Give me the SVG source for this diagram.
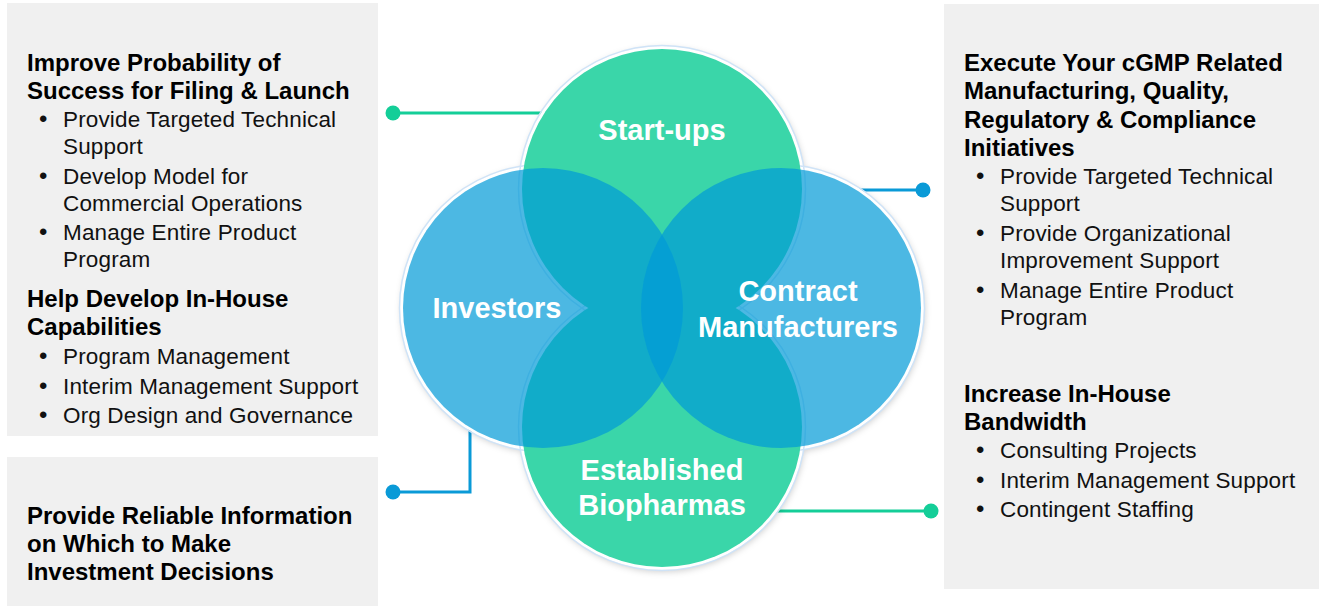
<svg xmlns="http://www.w3.org/2000/svg" width="1322" height="606" viewBox="0 0 1322 606">
  <style>
    .panel { fill: #F0F0F0; }
    .head { font-family: "Liberation Sans", Arial, sans-serif; font-weight: bold; font-size: 24px; fill: #000; }
    .item { font-family: "Liberation Sans", Arial, sans-serif; font-size: 22.5px; letter-spacing: 0.15px; fill: #111; }
    .bul { font-family: "Liberation Sans", Arial, sans-serif; font-size: 24px; fill: #111; }
    .lbl { font-family: "Liberation Sans", Arial, sans-serif; font-weight: bold; font-size: 29px; fill: #fff; text-anchor: middle; }
    .green { fill: #3AD6A9; }
    .blue { fill: #009AD7; fill-opacity: 0.7; }
    .back { fill: #fff; stroke: #fff; stroke-width: 6; }
    .halo { fill: none; stroke: #CFE3F7; stroke-width: 1.5; }
    .cg { stroke: #14CE98; stroke-width: 3; fill: none; }
    .cb { stroke: #0A9AD7; stroke-width: 3; fill: none; }
    .dg { fill: #14CE98; }
    .db { fill: #0A9AD7; }
  </style>
  <defs>
    <filter id="shadow" x="-20%" y="-20%" width="140%" height="140%">
      <feDropShadow dx="1" dy="2" stdDeviation="3" flood-color="#000" flood-opacity="0.18"/>
    </filter>
  </defs>

  <g id="panel-left-top">
    <rect class="panel" x="7" y="3" width="371" height="433"/>
    <text class="head" x="27" y="71">Improve Probability of</text>
    <text class="head" x="27" y="99">Success for Filing &amp; Launch</text>
    <text class="bul" x="39" y="127">•</text><text class="item" x="63" y="127">Provide Targeted Technical</text>
    <text class="item" x="63" y="154">Support</text>
    <text class="bul" x="39" y="184">•</text><text class="item" x="63" y="184">Develop Model for</text>
    <text class="item" x="63" y="211">Commercial Operations</text>
    <text class="bul" x="39" y="240">•</text><text class="item" x="63" y="240">Manage Entire Product</text>
    <text class="item" x="63" y="267">Program</text>
    <text class="head" x="27" y="307">Help Develop In-House</text>
    <text class="head" x="27" y="335">Capabilities</text>
    <text class="bul" x="39" y="364">•</text><text class="item" x="63" y="364">Program Management</text>
    <text class="bul" x="39" y="394">•</text><text class="item" x="63" y="394">Interim Management Support</text>
    <text class="bul" x="39" y="423">•</text><text class="item" x="63" y="423">Org Design and Governance</text>
  </g>

  <g id="panel-left-bottom">
    <rect class="panel" x="7" y="457" width="371" height="149"/>
    <text class="head" x="27" y="524">Provide Reliable Information</text>
    <text class="head" x="27" y="552">on Which to Make</text>
    <text class="head" x="27" y="580">Investment Decisions</text>
  </g>

  <g id="panel-right">
    <rect class="panel" x="944" y="4" width="375" height="585"/>
    <text class="head" x="964" y="71">Execute Your cGMP Related</text>
    <text class="head" x="964" y="99">Manufacturing, Quality,</text>
    <text class="head" x="964" y="128">Regulatory &amp; Compliance</text>
    <text class="head" x="964" y="156">Initiatives</text>
    <text class="bul" x="976" y="184">•</text><text class="item" x="1000" y="184">Provide Targeted Technical</text>
    <text class="item" x="1000" y="211">Support</text>
    <text class="bul" x="976" y="241">•</text><text class="item" x="1000" y="241">Provide Organizational</text>
    <text class="item" x="1000" y="268">Improvement Support</text>
    <text class="bul" x="976" y="298">•</text><text class="item" x="1000" y="298">Manage Entire Product</text>
    <text class="item" x="1000" y="325">Program</text>
    <text class="head" x="964" y="402">Increase In-House</text>
    <text class="head" x="964" y="430">Bandwidth</text>
    <text class="bul" x="976" y="458">•</text><text class="item" x="1000" y="458">Consulting Projects</text>
    <text class="bul" x="976" y="488">•</text><text class="item" x="1000" y="488">Interim Management Support</text>
    <text class="bul" x="976" y="517">•</text><text class="item" x="1000" y="517">Contingent Staffing</text>
  </g>

  <g id="connectors">
    <line class="cg" x1="393" y1="113" x2="560" y2="113"/>
    <circle class="dg" cx="393" cy="113" r="7.5"/>
    <polyline class="cb" points="393,492 470,492 470,420"/>
    <circle class="db" cx="393" cy="492" r="7.5"/>
    <line class="cb" x1="840" y1="190" x2="923" y2="190"/>
    <circle class="db" cx="923" cy="190" r="7.5"/>
    <line class="cg" x1="760" y1="511" x2="931" y2="511"/>
    <circle class="dg" cx="931" cy="511" r="7.5"/>
  </g>

  <g id="venn-backing" filter="url(#shadow)">
    <circle class="back" cx="662" cy="189" r="140"/>
    <circle class="back" cx="662" cy="427" r="140"/>
    <circle class="back" cx="543" cy="308" r="140"/>
    <circle class="back" cx="781" cy="308" r="140"/>
  </g>
  <g id="venn-halo">
    <circle class="halo" cx="662" cy="189" r="143.5"/>
    <circle class="halo" cx="662" cy="427" r="143.5"/>
    <circle class="halo" cx="543" cy="308" r="143.5"/>
    <circle class="halo" cx="781" cy="308" r="143.5"/>
  </g>

  <g id="node-startups">
    <circle class="green" cx="662" cy="189" r="140"/>
  </g>
  <g id="node-biopharmas">
    <circle class="green" cx="662" cy="427" r="140"/>
  </g>
  <g id="node-investors">
    <circle class="blue" cx="543" cy="308" r="140"/>
  </g>
  <g id="node-contract">
    <circle class="blue" cx="781" cy="308" r="140"/>
  </g>

  <g id="labels">
    <text class="lbl" x="662" y="140">Start-ups</text>
    <text class="lbl" x="497" y="318">Investors</text>
    <text class="lbl" x="798" y="301">Contract</text>
    <text class="lbl" x="798" y="337">Manufacturers</text>
    <text class="lbl" x="662" y="480">Established</text>
    <text class="lbl" x="662" y="515">Biopharmas</text>
  </g>
</svg>
